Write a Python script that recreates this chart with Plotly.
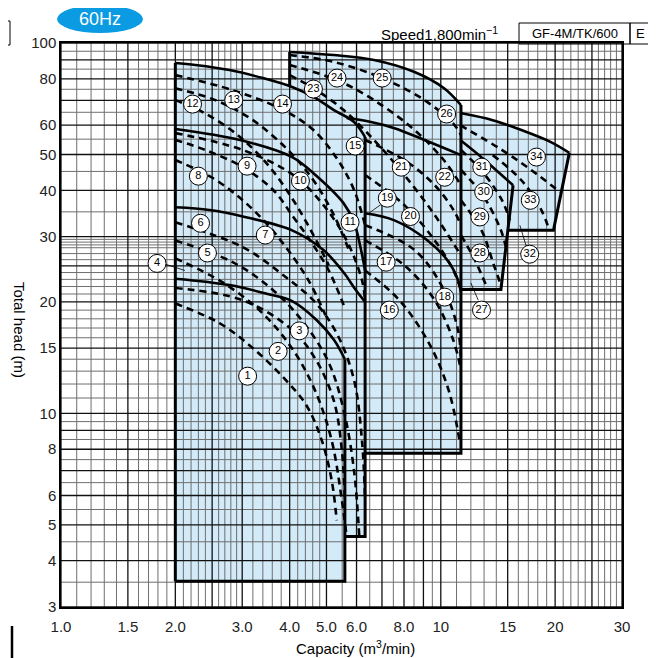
import plotly.graph_objects as go

OFF = 8  # page body margin in the browser
W, H = 656 - OFF, 658 - OFF
ML, MR, MT, MB = 61 - OFF, 34, 43 - OFF, 51
PW = W - ML - MR
PH = H - MT - MB


def pxx(x):
    return (x - OFF - ML) / PW


def pxy(y):
    return (H - MB - (y - OFF)) / PH


# ---------------- data ----------------
x_ticks = [1.0, 1.5, 2, 3, 4, 5, 6, 8, 10, 15, 20, 30]
x_ticktext = ["1.0", "1.5", "2.0", "3.0", "4.0", "5.0", "6.0", "8.0", "10", "15", "20", "30"]
y_ticks = [3, 4, 5, 6, 8, 10, 15, 20, 30, 40, 50, 60, 80, 100]

xgrid_major = [1.0, 1.5, 2, 2.5, 3, 4, 5, 6, 7, 8, 9, 10, 15, 20, 25, 30]
xgrid_minor = [1.1, 1.2, 1.3, 1.4, 1.6, 1.7, 1.8, 1.9, 2.1, 2.2, 2.3, 2.4, 2.6, 2.7, 2.8, 2.9,
               3.2, 3.4, 3.6, 3.8, 4.2, 4.4, 4.6, 4.8, 5.5, 6.5, 7.5, 8.5, 9.5,
               11, 12, 13, 14, 16, 17, 18, 19, 21, 22, 23, 24, 26, 27, 28, 29]
ygrid_major = [3, 4, 5, 6, 7, 8, 9, 10, 15, 20, 25, 30, 40, 50, 60, 70, 80, 90, 100]
ygrid_minor = [3.5, 4.5, 5.5, 6.5, 7.5, 8.5, 9.5, 11, 12, 13, 14, 16, 17, 18, 19, 21, 22, 23, 24,
               26, 27, 28, 28.5, 29, 29.5, 35, 45, 55, 65, 75, 85, 95]

# pump curves (capacity m3/min, head m)
c01 = [(2.0, 19.8), (2.62, 17.5), (3.2, 15.0), (3.85, 12.5), (4.43, 10.5), (4.86, 8.45), (5.16, 6.6), (5.32, 5.14)]
c02 = [(2.0, 21.8), (3.01, 20.2), (4.06, 16.8), (4.7, 13.9), (5.23, 10.8), (5.49, 7.94), (5.59, 5.82)]
c03 = [(2.0, 23.1), (2.78, 22.2), (3.5, 21.0), (4.06, 20.1), (4.7, 17.9), (5.23, 15.8), (5.59, 14.0)]
c04 = [(2.0, 26.2), (2.66, 22.6), (3.4, 18.6), (4.09, 14.8), (4.67, 11.5), (5.16, 8.45), (5.49, 5.82), (5.65, 4.65)]
c05 = [(2.0, 29.3), (2.83, 25.6), (3.62, 21.5), (4.35, 17.6), (5.07, 13.7), (5.55, 10.2), (5.91, 7.0), (6.1, 4.65)]
c06 = [(2.0, 32.8), (3.01, 28.1), (3.85, 23.6), (4.7, 19.8), (5.36, 16.2), (5.91, 12.3), (6.2, 8.45), (6.32, 5.82)]
c07 = [(2.0, 36.0), (2.46, 35.4), (3.01, 34.0), (4.06, 31.2), (4.91, 27.6), (5.55, 24.0), (5.98, 21.5), (6.32, 20.0)]
c08 = [(2.0, 48.3), (2.51, 43.2), (3.01, 37.6), (3.51, 32.2), (3.96, 27.6), (4.48, 22.9), (4.97, 18.4)]
c09 = [(2.0, 54.7), (2.4, 51.4), (3.01, 46.2), (3.62, 40.1), (4.09, 33.9), (4.53, 29.3), (5.07, 24.3), (5.55, 19.6)]
c10 = [(2.0, 57.1), (3.01, 51.4), (4.09, 44.0), (4.91, 36.5), (5.65, 29.3), (6.2, 22.9), (6.32, 20.2)]
c11 = [(2.0, 58.6), (2.96, 54.7), (4.06, 49.2), (4.62, 44.5), (5.55, 36.9), (5.91, 32.8), (6.13, 28.4), (6.32, 24.3)]
c12 = [(2.0, 70.1), (2.36, 65.1), (2.92, 56.4), (3.51, 46.8), (4.09, 37.6), (4.62, 30.3), (5.07, 25.1)]
c13 = [(2.0, 75.5), (2.55, 70.1), (3.2, 61.9), (3.96, 51.4), (4.62, 42.6), (5.23, 34.3), (5.73, 27.6)]
c14 = [(2.0, 81.9), (2.83, 74.6), (3.85, 65.9), (4.62, 58.2), (5.36, 48.3), (5.91, 40.1), (6.32, 32.2)]
c15 = [(2.0, 88.3), (2.26, 87.2), (2.78, 84.5), (3.4, 80.4), (4.06, 76.1), (4.62, 71.5), (5.23, 65.9), (5.91, 61.2), (6.32, 55.7)]
c16 = [(6.32, 24.3), (7.78, 20.2), (9.36, 15.3), (10.5, 11.5), (11.2, 8.45)]
c17 = [(6.32, 29.3), (8.02, 25.1), (9.64, 20.2), (10.8, 15.7), (11.3, 13.1)]
c18 = [(6.32, 32.2), (8.53, 27.6), (10.2, 21.5), (11.1, 16.8), (11.3, 13.9)]
c19 = [(6.32, 34.7), (7.55, 33.2), (9.23, 29.3), (10.5, 25.6), (11.1, 22.9), (11.3, 21.2)]
c20 = [(6.32, 44.0), (8.02, 36.5), (9.64, 29.3), (10.8, 24.3), (11.3, 21.5)]
c21 = [(6.32, 54.7), (8.02, 48.3), (9.64, 41.3), (10.8, 35.4), (11.3, 32.2)]
c22 = [(5.65, 62.7), (6.55, 61.2), (7.55, 58.9), (9.06, 54.7), (10.5, 51.4), (11.3, 49.8)]
c23 = [(4.0, 81.9), (4.62, 75.5), (5.55, 65.9), (6.67, 54.7), (8.02, 44.0), (9.64, 34.3), (11.3, 26.7)]
c24 = [(4.0, 87.2), (5.32, 79.4), (6.67, 70.1), (8.53, 58.2), (10.18, 48.3), (11.3, 41.3)]
c25 = [(4.0, 92.8), (5.23, 88.9), (7.01, 80.4), (9.06, 70.1), (10.8, 60.5), (11.3, 56.4)]
c26 = [(4.0, 94.6), (5.23, 92.8), (6.67, 90.0), (8.53, 83.5), (10.18, 75.6), (11.3, 68.0)]
c27 = [(11.3, 30.3), (12.3, 25.9), (13.3, 21.6)]
c28 = [(11.3, 37.6), (12.8, 31.2), (13.8, 25.1), (14.4, 22.2)]
c29 = [(11.3, 45.4), (12.9, 38.8), (14.4, 31.2), (14.9, 27.6)]
c30 = [(11.3, 51.4), (12.9, 44.8), (14.5, 37.6), (15.2, 33.2)]
c31 = [(11.25, 54.7), (12.9, 48.8), (15.5, 41.3)]
c33 = [(13.7, 49.8), (16.3, 42.6), (18.4, 35.4), (19.3, 31.2)]
c34 = [(11.25, 60.0), (14.5, 51.4), (17.3, 45.4), (20.6, 39.6)]
c32_top = [(11.25, 64.7), (13.7, 61.9), (16.3, 58.2), (19.5, 54.0), (21.8, 50.5)]

solid_curves = [c03, c07, c11, c15, c19, c22, c26, c31, c32_top]
dashed_curves = [c01, c02, c04, c05, c06, c08, c09, c10, c12, c13, c14,
                 c16, c17, c18, c20, c21, c23, c24, c25, c27, c28, c29, c30, c33, c34]

# range boundary lines (capacity, head)
edge_lines = [
    [(2.0, 3.52), (2.0, 88.3)],
    [(2.0, 3.52), (5.59, 3.52), (5.59, 14.0)],
    [(5.59, 4.65), (6.32, 4.65), (6.32, 55.7)],
    [(6.32, 7.8), (11.3, 7.8), (11.3, 68.0)],
    [(4.0, 76.1), (4.0, 94.6)],
    [(11.3, 21.6), (14.4, 21.6), (15.5, 41.3)],
    [(15.0, 31.2), (19.8, 31.2), (21.8, 50.5)],
]

# label positions (number, capacity, head)
label_no = list(range(1, 35))
label_q = [3.1, 3.73, 4.24, 1.79, 2.43, 2.33, 3.45, 2.3, 3.09, 4.27, 5.77, 2.22, 2.85, 3.83, 5.95,
           7.32, 7.18, 10.24, 7.23, 8.32, 7.87, 10.24, 4.62, 5.33, 7.01, 10.36,
           12.8, 12.67, 12.67, 12.97, 12.82, 17.14, 17.2, 17.86]
label_h = [12.6, 14.7, 16.7, 25.4, 27.1, 32.6, 30.3, 43.7, 46.5, 42.4, 32.8, 68.4, 70.1, 68.4, 52.7,
           19.0, 25.6, 20.6, 38.1, 34.0, 46.2, 43.4, 75.1, 80.4, 80.4, 64.3,
           19.0, 27.1, 33.9, 39.6, 46.2, 26.9, 37.6, 49.2]
leaders = [
    [(1.88, 25.3), (2.12, 24.3)],
    [(6.95, 36.6), (6.46, 34.7)],
    [(12.55, 20.2), (12.0, 22.5)],
    [(16.8, 28.2), (16.15, 32.2)],
]

# ---------------- figure ----------------
fig = go.Figure()
FILL = "#d3eaf8"
FONT = "Arial, Liberation Sans, sans-serif"


def xy(pts):
    return [p[0] for p in pts], [p[1] for p in pts]


# shaded selection ranges
boxes = [
    [(2.0, 3.52)] + c03 + [(5.59, 3.52)],
    [(2.0, 4.65)] + c07 + [(6.32, 4.65)],
    [(2.0, 4.65)] + c11 + [(6.32, 4.65)],
    [(2.0, 4.65)] + c15 + [(6.32, 4.65)],
    [(6.32, 7.8)] + [p for p in c22 if p[0] >= 6.32] + [(11.3, 7.8)],
    [(4.0, 21.2)] + c26 + [(11.3, 21.2)],
    [(11.3, 21.6)] + c32_top + [(19.8, 31.2), (15.0, 31.2), (14.4, 21.6)],
    [(5.65, 62.7), (6.32, 61.5), (6.32, 55.7)],
]
for b in boxes:
    bx, by = xy(b)
    fig.add_trace(go.Scatter(x=bx, y=by, fill="toself", fillcolor=FILL, mode="none",
                             hoverinfo="skip"))


def grid_trace(xs, ys, color, width):
    gx, gy = [], []
    for v in xs:
        gx += [v, v, None]
        gy += [3, 100, None]
    for v in ys:
        gx += [1, 30, None]
        gy += [v, v, None]
    return go.Scatter(x=gx, y=gy, mode="lines", line=dict(color=color, width=width), hoverinfo="skip")


fig.add_trace(grid_trace(xgrid_minor, ygrid_minor, "#6f6f6f", 1))
fig.add_trace(grid_trace(xgrid_major, ygrid_major, "#111111", 1.3))

for e in edge_lines:
    ex, ey = xy(e)
    fig.add_trace(go.Scatter(x=ex, y=ey, mode="lines", line=dict(color="black", width=3), hoverinfo="skip"))

for c in solid_curves:
    cx, cy = xy(c)
    fig.add_trace(go.Scatter(x=cx, y=cy, mode="lines", line_shape="spline",
                             line=dict(color="black", width=2.6), hoverinfo="skip"))
for c in dashed_curves:
    cx, cy = xy(c)
    fig.add_trace(go.Scatter(x=cx, y=cy, mode="lines", line_shape="spline",
                             line=dict(color="black", width=2.6, dash="7px,5px"), hoverinfo="skip"))
for ld in leaders:
    lx, ly = xy(ld)
    fig.add_trace(go.Scatter(x=lx, y=ly, mode="lines", line=dict(color="black", width=0.8), hoverinfo="skip"))

fig.add_trace(go.Scatter(x=label_q, y=label_h, mode="markers+text",
                         marker=dict(size=18, color="white", line=dict(color="black", width=1)),
                         text=[str(n) for n in label_no], textposition="middle center",
                         textfont=dict(size=11, color="black", family=FONT),
                         hoverinfo="skip"))

# decorations
fig.add_shape(type="circle", xref="paper", yref="paper",
              x0=pxx(57), x1=pxx(143), y0=pxy(33), y1=pxy(5),
              fillcolor="#0a9be2", line=dict(width=0))
fig.add_annotation(x=pxx(100), y=pxy(19), xref="paper", yref="paper", xanchor="center", yanchor="middle",
                   text="60Hz", showarrow=False, font=dict(size=18, color="white", family=FONT))
fig.add_shape(type="rect", xref="paper", yref="paper", x0=pxx(-4), x1=pxx(10), y0=pxy(45), y1=pxy(21),
              line=dict(color="black", width=1))
fig.add_shape(type="line", xref="paper", yref="paper", x0=pxx(12), x1=pxx(12), y0=pxy(662), y1=pxy(626),
              line=dict(color="black", width=2.5))
fig.add_annotation(x=pxx(500), y=pxy(33), xref="paper", yref="paper", xanchor="right", yanchor="middle",
                   text="Speed1,800min<sup>−1</sup>", showarrow=False,
                   font=dict(size=15, color="black", family=FONT))
fig.add_shape(type="rect", xref="paper", yref="paper", x0=pxx(519), x1=pxx(630), y0=pxy(44), y1=pxy(23),
              line=dict(color="black", width=1))
fig.add_shape(type="rect", xref="paper", yref="paper", x0=pxx(630), x1=pxx(650), y0=pxy(44), y1=pxy(23),
              line=dict(color="black", width=1))
fig.add_annotation(x=pxx(574.5), y=pxy(33.5), xref="paper", yref="paper", xanchor="center", yanchor="middle",
                   text="GF-4M/TK/600", showarrow=False, font=dict(size=13, color="black", family=FONT))
fig.add_annotation(x=pxx(640), y=pxy(33.5), xref="paper", yref="paper", xanchor="center", yanchor="middle",
                   text="E", showarrow=False, font=dict(size=13, color="black", family=FONT))
fig.add_annotation(x=pxx(20), y=pxy(330), xref="paper", yref="paper", xanchor="center", yanchor="middle",
                   text="Total head (m)", textangle=90, showarrow=False,
                   font=dict(size=15, color="black", family=FONT))
fig.add_annotation(x=pxx(355), y=pxy(647), xref="paper", yref="paper", xanchor="center", yanchor="middle",
                   text="Capacity (m<sup>3</sup>/min)", showarrow=False,
                   font=dict(size=15, color="black", family=FONT))

fig.update_layout(
    width=W, height=H, margin=dict(l=ML, r=MR, t=MT, b=MB, autoexpand=False),
    paper_bgcolor="white", plot_bgcolor="white", showlegend=False,
    font=dict(family=FONT, size=15, color="#222"),
)
fig.update_xaxes(type="log", range=[0, 1.4771], tickvals=x_ticks, ticktext=x_ticktext,
                 showgrid=False, zeroline=False, showline=True, linecolor="black", linewidth=1.5,
                 mirror=True, ticks="", tickfont=dict(size=15), automargin=False,
                 ticklabelstandoff=5)
fig.update_yaxes(type="log", range=[0.4771, 2], tickvals=y_ticks, ticktext=[str(v) for v in y_ticks],
                 showgrid=False, zeroline=False, showline=True, linecolor="black", linewidth=1.5,
                 mirror=True, ticks="", tickfont=dict(size=15), automargin=False)

fig.write_html("out.html")
